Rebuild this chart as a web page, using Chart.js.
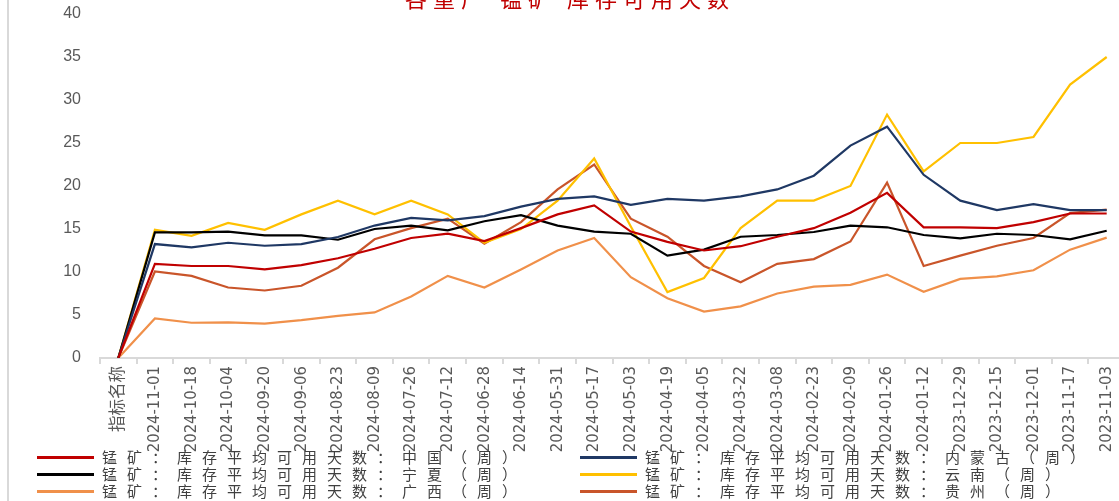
<!DOCTYPE html>
<html>
<head>
<meta charset="utf-8">
<script src="https://cdn.jsdelivr.net/npm/chart.js@4/dist/chart.umd.min.js"></script>
<style>
  html, body { margin: 0; padding: 0; width: 1119px; height: 501px; overflow: hidden; background: #fff; }
  #wrap { position: relative; width: 1119px; height: 501px; overflow: hidden; }
  #c { position: absolute; left: 0; top: 0; }
  #border { position: absolute; left: 7px; top: 0; width: 2px; height: 501px; background: #d9d9d9; }
  #title { position: absolute; left: 0; width: 1140px; top: -19px; text-align: center; color: #c00000;
           font-family: "Noto Sans CJK SC", sans-serif; font-size: 22px; letter-spacing: 6px; white-space: pre; }
  .lg { position: absolute; height: 18px; font-family: "Noto Sans CJK SC", sans-serif; font-size: 15px;
        letter-spacing: 10px; color: #404040; white-space: pre; line-height: 18px; }
  .lg .sw { position: absolute; top: 8px; height: 3px; }
  .lg .tx { position: absolute; top: 0; }
</style>
</head>
<body>
<div id="wrap">
  <canvas id="c" width="1125" height="501"></canvas>
  <div id="border"></div>
  <div id="title">各重广 锰矿 库存可用天数</div>
  <div id="legend"></div>
</div>
<script>
const categories = ['指标名称','2024-11-01','2024-10-18','2024-10-04','2024-09-20','2024-09-06','2024-08-23','2024-08-09','2024-07-26','2024-07-12','2024-06-28','2024-06-14','2024-05-31','2024-05-17','2024-05-03','2024-04-19','2024-04-05','2024-03-22','2024-03-08','2024-02-23','2024-02-09','2024-01-26','2024-01-12','2023-12-29','2023-12-15','2023-12-01','2023-11-17','2023-11-03'];

const china     = [0,10.95,10.7,10.7,10.3,10.8,11.6,12.7,13.95,14.45,13.6,15.1,16.7,17.75,14.7,13.5,12.5,13.0,14.1,15.1,16.9,19.2,15.2,15.2,15.1,15.8,16.8,16.8];
const neimenggu = [0,13.25,12.86,13.4,13.05,13.25,14.07,15.4,16.3,16.0,16.5,17.6,18.5,18.8,17.8,18.5,18.3,18.8,19.6,21.2,24.7,26.9,21.3,18.3,17.2,17.9,17.2,17.2];
const ningxia   = [0,14.6,14.6,14.7,14.25,14.25,13.75,15.0,15.4,14.85,15.9,16.6,15.4,14.7,14.45,11.9,12.6,14.1,14.3,14.65,15.4,15.2,14.3,13.9,14.45,14.3,13.8,14.8];
const yunnan    = [0,14.9,14.2,15.7,14.9,16.7,18.3,16.7,18.3,16.7,13.4,15.0,18.3,23.2,15.3,7.66,9.3,15.1,18.3,18.3,20.0,28.3,21.7,25.0,25.0,25.7,31.8,35.0];
const guangxi   = [0,4.6,4.1,4.15,4.0,4.4,4.9,5.3,7.15,9.55,8.2,10.3,12.5,13.95,9.4,6.95,5.4,6.0,7.5,8.3,8.5,9.7,7.7,9.2,9.5,10.2,12.6,14.0];
const guizhou   = [0,10.06,9.55,8.2,7.85,8.4,10.5,13.8,15.1,16.2,13.3,15.8,19.6,22.5,16.2,14.1,10.7,8.8,10.95,11.5,13.55,20.4,10.7,11.9,13.05,13.95,16.85,17.25];

const seriesNames = ['锰矿：库存平均可用天数：中国（周）','锰矿：库存平均可用天数：内蒙古（周）','锰矿：库存平均可用天数：宁夏（周）','锰矿：库存平均可用天数：云南（周）','锰矿：库存平均可用天数：广西（周）','锰矿：库存平均可用天数：贵州（周）'];
const seriesData = [china, neimenggu, ningxia, yunnan, guangxi, guizhou];
const seriesColors = ['#c00000','#1f3864','#000000','#ffc000','#f0904a','#c9552a'];
const yTicks = [0,5,10,15,20,25,30,35,40];

const datasets = seriesNames.map((n, i) => ({
  label: n, data: seriesData[i], borderColor: seriesColors[i], backgroundColor: seriesColors[i],
  borderWidth: 2.2, pointRadius: 0, tension: 0, fill: false
}));

const chart = new Chart(document.getElementById('c'), {
  type: 'line',
  data: { labels: categories, datasets: datasets },
  options: {
    responsive: false, animation: false, devicePixelRatio: 1,
    layout: { padding: { top: 14, left: 0, right: 0, bottom: 0 } },
    plugins: { legend: { display: false }, tooltip: { enabled: false }, title: { display: false } },
    scales: {
      x: {
        type: 'category', offset: true,
        grid: { display: true, drawOnChartArea: false, drawTicks: true, tickLength: 6, offset: true, color: '#d9d9d9', lineWidth: 2 },
        border: { display: true, color: '#d9d9d9', width: 2 },
        ticks: { autoSkip: false, maxRotation: 90, minRotation: 90, padding: 2, color: '#595959',
                 font: { family: "'DejaVu Sans Condensed', 'Noto Sans CJK SC', sans-serif", size: 16.5 } },
        afterFit: s => { s.height = 143; s.paddingLeft = 0; s.paddingRight = 0; }
      },
      y: {
        min: 0, max: 40,
        afterBuildTicks: s => { s.ticks = yTicks.map(v => ({ value: v })); },
        grid: { display: false, drawTicks: false }, border: { display: false },
        ticks: { padding: 19, color: '#595959', font: { family: "'Liberation Sans', Arial, sans-serif", size: 16 } },
        afterFit: s => { s.width = 100; s.paddingTop = 0; s.paddingBottom = 0; }
      }
    }
  }
});

// HTML legend built from the chart's datasets
const legendPos = [[37, 448], [580, 448], [37, 465], [580, 465], [37, 482], [580, 482]];
const lg = document.getElementById('legend');
chart.data.datasets.forEach((d, i) => {
  const item = document.createElement('div');
  item.className = 'lg';
  item.style.left = legendPos[i][0] + 'px';
  item.style.top = legendPos[i][1] + 'px';
  const sw = document.createElement('div');
  sw.className = 'sw'; sw.style.left = '0px'; sw.style.width = '57px'; sw.style.background = d.borderColor;
  const tx = document.createElement('span');
  tx.className = 'tx'; tx.style.left = '65px'; tx.textContent = d.label;
  item.appendChild(sw); item.appendChild(tx);
  lg.appendChild(item);
});
</script>
</body>
</html>
